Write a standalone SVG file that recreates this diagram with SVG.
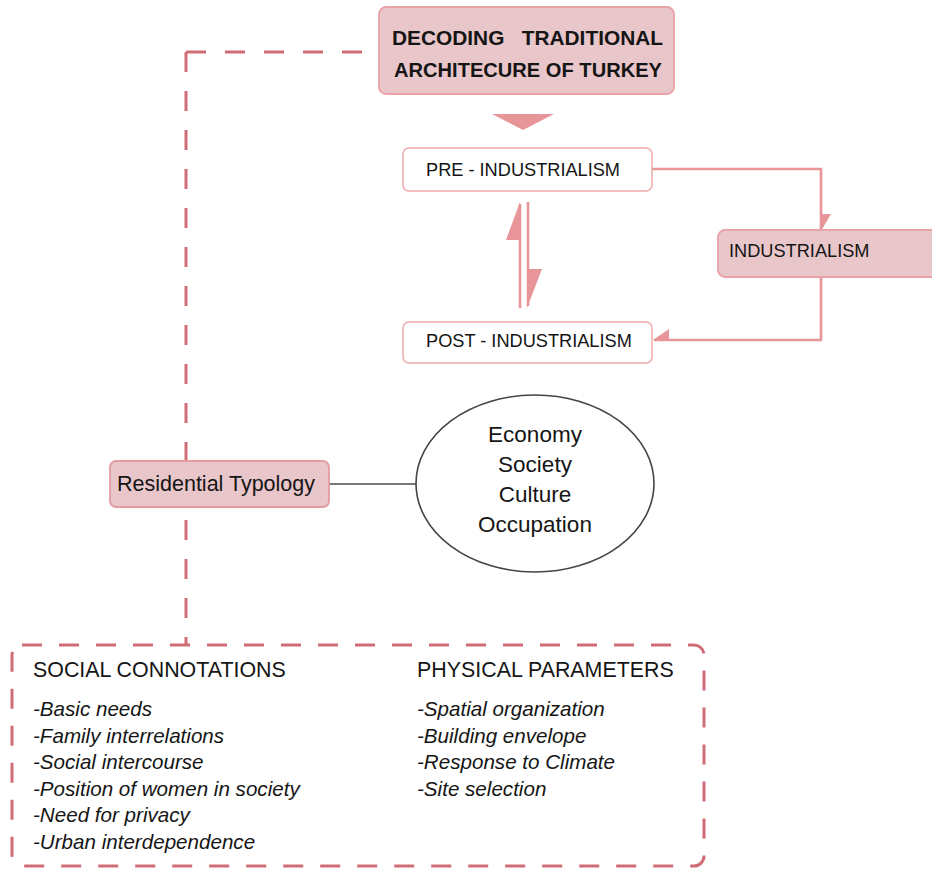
<svg xmlns="http://www.w3.org/2000/svg" width="932" height="870" viewBox="0 0 932 870">
<defs>
<style>
.dash{fill:none;stroke:#cf6d76;stroke-width:3;stroke-dasharray:20 19}
.arr{fill:none;stroke:#e8959a;stroke-width:2.6}
.head{fill:#e8959a}
.pink{fill:#e9c6c9;stroke:#e9a2a5;stroke-width:1.8}
.white{fill:#ffffff;stroke:#eeaaad;stroke-width:1.5}
.t{font-family:"Liberation Sans",Arial,Helvetica,sans-serif;fill:#151515}
.title{font-weight:bold;font-size:19.5px}
.n18{font-size:18.2px}
.it{font-style:italic;font-size:20.6px}
.hd{font-size:21.4px}
</style>
</defs>
<g id="connectors">
<path class="dash" d="M186 52 H378"/>
<path class="dash" d="M186 52 V645"/>
<rect class="dash" x="12" y="645" width="692" height="221" rx="10" style="stroke-dasharray:20 17"/>
<polygon class="head" points="492,114 554,114 523,130" fill="#e6939a"/>
<path class="arr" d="M652 169 H821 V230"/>
<polygon class="head" points="821,214 831,214 821,231"/>
<path class="arr" d="M821 277 V340 H654"/>
<polygon class="head" points="653,340 669,329 669,340"/>
<line class="arr" x1="520" y1="204" x2="520" y2="308"/>
<polygon class="head" points="520,202 506,240 521,240"/>
<line class="arr" x1="528" y1="202" x2="528" y2="306"/>
<polygon class="head" points="527,269 542,269 527,308"/>
<line x1="329" y1="484" x2="417" y2="484" stroke="#777777" stroke-width="2"/>
</g>
<g id="title">
<rect class="pink" x="379" y="7" width="295" height="87" rx="7"/>
<text class="t title" x="527.5" y="45" text-anchor="middle" xml:space="preserve" textLength="271" lengthAdjust="spacingAndGlyphs">DECODING   TRADITIONAL</text>
<text class="t title" x="528" y="77" text-anchor="middle" textLength="268" lengthAdjust="spacingAndGlyphs">ARCHITECURE OF TURKEY</text>
</g>
<g id="pre">
<rect class="white" x="403" y="148" width="249" height="43" rx="6"/>
<text class="t n18" x="426" y="176">PRE - INDUSTRIALISM</text>
</g>
<g id="industrialism">
<rect class="pink" x="718" y="230" width="240" height="47" rx="7"/>
<text class="t n18" x="729" y="257">INDUSTRIALISM</text>
</g>
<g id="post">
<rect class="white" x="403" y="322" width="249" height="41" rx="6"/>
<text class="t n18" x="426" y="347">POST - INDUSTRIALISM</text>
</g>
<g id="residential">
<rect class="pink" x="110" y="461" width="219" height="46" rx="6" style="stroke:#e49c9f"/>
<text class="t" x="117" y="491" font-size="21.5">Residential Typology</text>
</g>
<g id="factors">
<ellipse cx="535" cy="483.5" rx="119" ry="88.5" fill="#ffffff" stroke="#444444" stroke-width="1.6"/>
<text class="t" x="535" y="442" font-size="22.5" text-anchor="middle">Economy</text>
<text class="t" x="535" y="472" font-size="22.5" text-anchor="middle">Society</text>
<text class="t" x="535" y="502" font-size="22.5" text-anchor="middle">Culture</text>
<text class="t" x="535" y="532" font-size="22.5" text-anchor="middle">Occupation</text>
</g>
<g id="parameters">
<text class="t hd" x="33" y="677">SOCIAL CONNOTATIONS</text>
<text class="t it" x="33" y="716">-Basic needs</text>
<text class="t it" x="33" y="742.5">-Family interrelations</text>
<text class="t it" x="33" y="769">-Social intercourse</text>
<text class="t it" x="33" y="795.5">-Position of women in society</text>
<text class="t it" x="33" y="822">-Need for privacy</text>
<text class="t it" x="33" y="848.5">-Urban interdependence</text>
<text class="t hd" x="417" y="677">PHYSICAL PARAMETERS</text>
<text class="t it" x="417" y="716">-Spatial organization</text>
<text class="t it" x="417" y="742.5">-Building envelope</text>
<text class="t it" x="417" y="769">-Response to Climate</text>
<text class="t it" x="417" y="795.5">-Site selection</text>
</g>
</svg>
